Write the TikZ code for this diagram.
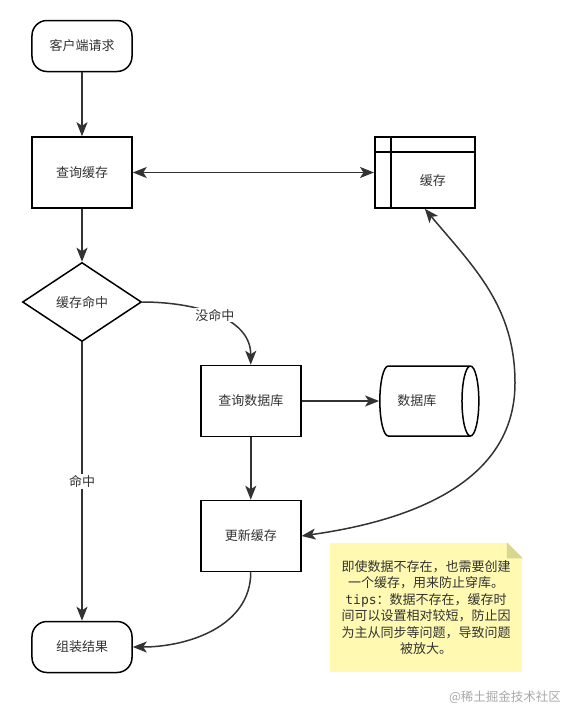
\documentclass[tikz,border=0pt]{standalone}
\usepackage{fontspec}
\setmainfont{Noto Sans CJK SC}
\newfontfamily\tipsfont{DejaVu Sans Mono}
\usetikzlibrary{matrix,shapes.geometric,arrows.meta}
\definecolor{inkc}{HTML}{333333}
\definecolor{notebg}{HTML}{FFF9B2}
\definecolor{notefold}{HTML}{D7D790}
\definecolor{markc}{HTML}{A8A8A8}
\newcommand{\fsz}{\fontsize{13}{16.4}\selectfont}
\tikzset{
  arr/.style={-{Stealth[length=14pt,width=11pt,inset=3.5pt]}},
  darr/.style={{Stealth[length=14pt,width=11pt,inset=3.5pt]}-{Stealth[length=14pt,width=11pt,inset=3.5pt]}},
  term/.style={rectangle, rounded corners=15pt, minimum width=100pt, minimum height=51pt},
  proc/.style={rectangle, minimum width=100pt, minimum height=71pt},
  cache/.style={proc, text height=28pt, text depth=3pt, path picture={
      \draw ([yshift=-15pt]path picture bounding box.north west) -- ([yshift=-15pt]path picture bounding box.north east);
      \draw ([xshift=16pt]path picture bounding box.north west) -- ([xshift=16pt]path picture bounding box.south west);}},
  decide/.style={diamond, aspect=1.5, minimum width=119pt, minimum height=79pt},
  store/.style={cylinder, aspect=1.4, minimum width=70pt, minimum height=99pt},
  lbl/.style={fill=white, inner sep=1pt, font=\fsz},
}
\begin{document}
\begin{tikzpicture}[x=1pt, y=-1pt, line width=1.5pt, color=inkc]
\useasboundingbox (0,0) rectangle (575,722);
\matrix (m) [matrix of nodes, ampersand replacement=\&, column sep={118pt,between origins},
  nodes={anchor=center, draw, font=\fsz, inner sep=0pt}, matrix anchor=m-1-1.center] at (82,46)
{
  |[term]| 客户端请求 \\[between origins,126.5pt]
  |[proc]| 查询缓存 \& \&[56pt] |[cache]| \hspace*{16pt}缓存 \\[between origins,129.5pt]
  |[decide]| 缓存命中 \\[between origins,99pt]
  \& |[proc]| 查询数据库 \& |[store]| 数据库\hspace*{16pt} \\[between origins,135pt]
  \& |[proc]| 更新缓存 \\[between origins,111pt]
  |[term]| 组装结果 \\
};
\coordinate (loop) at (515,383);
\path[arr]
  (m-1-1) edge (m-2-1)
  (m-2-1) edge (m-3-1)
  (m-3-1.east) edge [out=0, in=90] node [lbl] {没命中} (m-4-2.north)
  (m-3-1) edge node [lbl] {命中} (m-6-1)
  (m-4-2) edge (m-4-3)
  (m-4-2) edge (m-5-2)
  (m-5-2.south) edge [out=-90, in=0] (m-6-1.east);
\draw[darr] (m-2-1) -- (m-2-3);
\draw[darr] (m-2-3.south) to[out=-50, in=90] (loop) to[out=-90, in=8] (m-5-2.east);
% note
\node (note) [fill=notebg, minimum width=192pt, minimum height=129pt, inner sep=0pt,
  align=center, font=\fsz] at (426,607.5)
  {即使数据不存在，也需要创建\\一个缓存，用来防止穿库。\\{\tipsfont tips}：数据不存在，缓存时\\间可以设置相对较短，防止因\\为主从同步等问题，导致问题\\被放大。};
\fill[white] ([xshift=-16pt]note.north east) -- (note.north east) -- ([yshift=-16pt]note.north east) -- cycle;
\fill[notefold] ([xshift=-16pt]note.north east) -- ([xshift=-16pt,yshift=-16pt]note.north east) -- ([yshift=-16pt]note.north east) -- cycle;
\node (mark) [text=markc, font=\fontsize{12.5}{14}\selectfont] at (505,697) {@稀土掘金技术社区};
\end{tikzpicture}
\end{document}
